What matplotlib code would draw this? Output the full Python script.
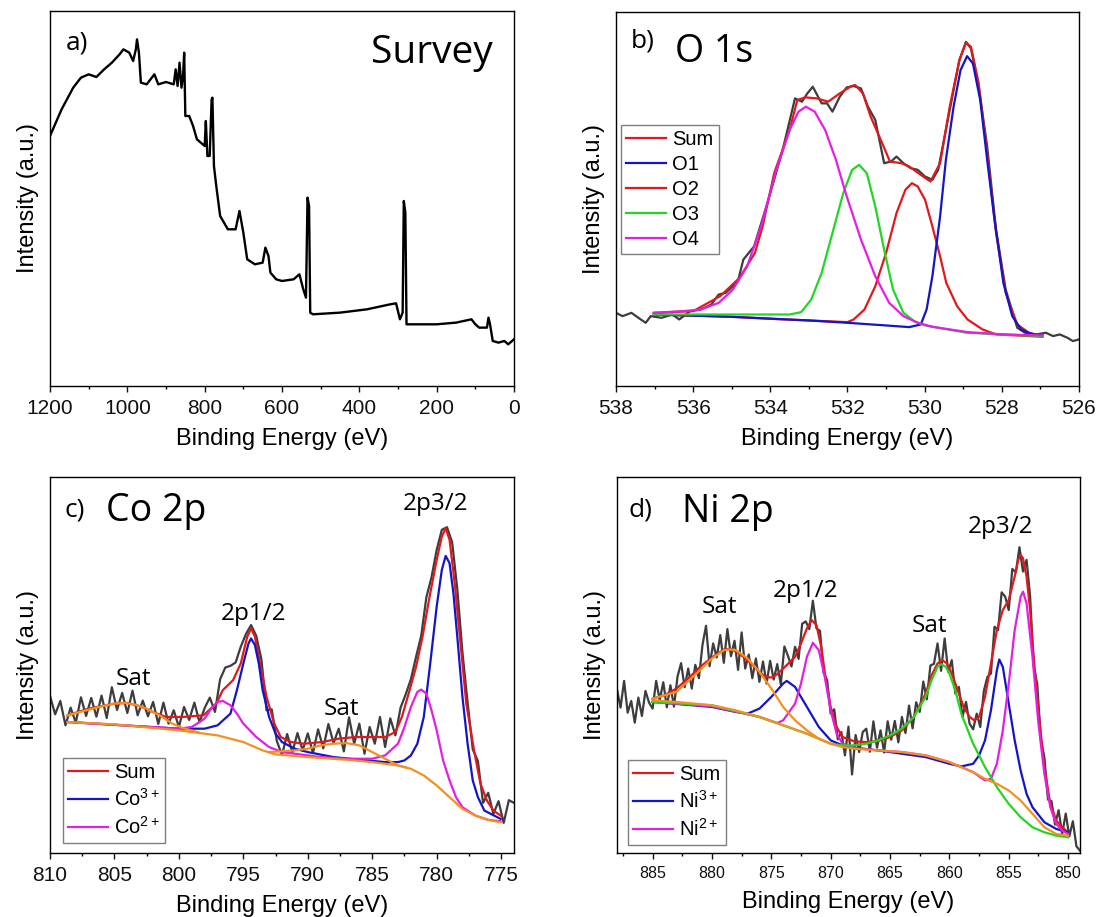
import numpy as np
import matplotlib
matplotlib.use("Agg")
import matplotlib.pyplot as plt
from matplotlib.ticker import MultipleLocator, NullLocator

# ---------------- DATA (intensities in arbitrary units) ----------------
# a) Survey
survey_E = [1200, 1170, 1140, 1120, 1100, 1080, 1060, 1040, 1020, 1010, 995, 985, 978, 975, 970, 965,
            950, 930, 920, 900, 880, 875, 870, 865, 860, 856, 853, 850, 840, 830, 820, 810, 800, 797,
            793, 787, 782, 780, 776, 770, 760, 740, 720, 710, 700, 690, 670, 650, 643, 635, 630, 615,
            600, 570, 555, 545, 538, 534, 530, 527, 520, 450, 380, 320, 305, 295, 288, 285, 281, 278,
            200, 150, 110, 100, 90, 70, 66, 62, 55, 40, 25, 15, 0]
survey_I = [750, 830, 895, 925, 935, 927, 950, 970, 995, 1010, 1000, 975, 1010, 1040, 1000, 910,
            905, 935, 905, 912, 905, 950, 900, 970, 895, 930, 1000, 810, 810, 780, 740, 730, 720, 795,
            690, 690, 860, 865, 660, 600, 510, 470, 470, 525, 460, 380, 365, 370, 415, 390, 340, 320,
            315, 320, 335, 290, 265, 565, 540, 220, 215, 220, 230, 245, 248, 200, 220, 555, 520, 185,
            185, 190, 200, 185, 175, 175, 205, 185, 135, 130, 135, 125, 140]

# b) O 1s
o_raw_E = [538.0, 537.83, 537.6, 537.42, 537.23, 537.1, 536.82, 536.54, 536.36, 536.08, 535.8, 535.53,
           535.34, 535.16, 534.97, 534.84, 534.7, 534.42, 534.05, 533.68, 533.36, 533.18, 533.04, 532.9,
           532.67, 532.53, 532.39, 532.2, 532.02, 531.84, 531.65, 531.47, 531.28, 531.05, 530.87, 530.73,
           530.55, 530.36, 530.18, 529.99, 529.8, 529.65, 529.35, 529.1, 528.93, 528.8, 528.6, 528.38,
           528.15, 527.9, 527.6, 527.4, 527.1, 526.86, 526.67, 526.5, 526.3, 526.16, 526.0]
o_raw_I = [220, 210, 220, 205, 190, 210, 205, 215, 200, 225, 230, 245,
           275, 280, 300, 315, 380, 420, 560, 710, 865, 855, 880, 900,
           850, 850, 825, 870, 898, 902, 895, 840, 800, 670, 675, 690,
           670, 655, 650, 630, 620, 650, 830, 980, 1035, 1015, 900, 720,
           470, 290, 175, 160, 155, 160, 150, 155, 145, 135, 140]
o_sum_E = [537.02, 536.0, 535.3, 534.8, 534.4, 534.2, 533.9, 533.5, 533.3, 533.1, 532.8, 532.5, 532.2,
           531.9, 531.8, 531.6, 531.4, 531.1, 530.9, 530.6, 530.4, 530.1, 529.85, 529.6, 529.35, 529.1,
           528.93, 528.8, 528.6, 528.4, 528.15, 527.9, 527.6, 527.3, 526.95]
o_sum_I = [220, 225, 270, 325, 400, 480, 640, 770, 860, 868, 865, 855, 880,
           902, 905, 880, 810, 730, 675, 670, 660, 635, 615, 670, 840, 980,
           1032, 1020, 910, 720, 460, 280, 185, 160, 150]
o1_E = [537.02, 535.0, 533.0, 532.0, 531.0, 530.4, 530.1, 529.95, 529.8, 529.6, 529.45, 529.25, 529.07,
        528.9, 528.75, 528.56, 528.38, 528.2, 527.96, 527.73, 527.5, 527.2, 526.95]
o1_I = [215, 208, 197, 190, 182, 177, 185, 230, 330, 510, 680, 840, 950,
        992, 970, 860, 680, 510, 310, 210, 170, 155, 152]
o2_E = [537.02, 535.0, 534.0, 533.0, 532.0, 531.84, 531.56, 531.28, 531.0, 530.73, 530.5, 530.33, 530.18,
        529.99, 529.8, 529.6, 529.44, 529.16, 528.89, 528.5, 528.15, 526.95]
o2_I = [215, 208, 202, 197, 192, 200, 230, 300, 400, 520, 590, 610, 600,
        560, 480, 390, 310, 240, 200, 170, 155, 148]
o3_E = [537.02, 533.5, 533.2, 532.94, 532.67, 532.39, 532.11, 531.88, 531.7, 531.5, 531.28, 531.05, 530.82,
        530.55, 530.27, 529.99, 529.5, 528.9, 528.0, 526.95]
o3_I = [215, 215, 222, 260, 340, 460, 580, 650, 665, 640, 540, 410, 290,
        220, 195, 182, 172, 160, 155, 150]
o4_E = [537.02, 536.27, 535.8, 535.34, 534.97, 534.6, 534.24, 533.87, 533.5, 533.27, 533.08, 532.85, 532.58,
        532.3, 532.02, 531.65, 531.28, 530.92, 530.55, 530.18, 529.8, 528.89, 527.96, 526.95]
o4_I = [220, 225, 230, 250, 290, 360, 480, 640, 770, 825, 840, 825, 770,
        680, 570, 440, 330, 250, 210, 190, 178, 162, 155, 152]

# c) Co 2p  (raw data on a 0.4 eV grid starting at 810 eV)
co_raw_start, co_raw_step = 810.0, 0.4
co_raw_I = [470, 415, 455, 382, 435, 390, 466, 410, 464, 408,
            471, 404, 496, 428, 479, 419, 486, 412, 456, 409,
            452, 386, 450, 387, 427, 377, 437, 398, 450, 391,
            434, 465, 422, 520, 555, 560, 570, 617, 655, 682,
            650, 580, 427, 430, 335, 293, 356, 301, 359, 307,
            358, 299, 370, 313, 386, 329, 372, 304, 406, 327,
            387, 297, 377, 327, 407, 317, 403, 352, 435, 475,
            520, 587, 650, 765, 825, 907, 967, 975, 930, 790,
            600, 450, 310, 275, 150, 180, 117, 155, 90, 158,
            150]
co_sum_E = [808.64, 807, 805, 804, 803, 802, 801, 799.7, 798.1, 797.1, 796.6, 795.8, 795.2, 794.7, 794.4,
            794.1, 793.7, 793.2, 792.6, 792.1, 791.3, 790.3, 788.9, 787.6, 786.3, 785.0, 784.0, 783.2,
            782.7, 782.1, 781.6, 781.1, 780.55, 780.0, 779.6, 779.3, 779.0, 778.6, 778.2, 777.7, 777.1,
            776.6, 776.1, 775.6, 775.04]
co_sum_I = [412, 432, 447, 449, 439, 422, 407, 407, 412, 447, 487, 517, 567, 647, 672,
            647, 567, 467, 387, 347, 332, 327, 332, 342, 347, 347, 347, 362,
            407, 487, 557, 647, 767, 877, 947, 972, 937, 807, 647, 447, 307,
            207, 157, 127, 112]
co3_E = [808.64, 800.0, 798.0, 797.0, 796.0, 795.5, 795.0, 794.6, 794.4, 794.1, 793.8, 793.5, 793.0, 792.5,
         792.0, 791.0, 790.0, 788.0, 786.0, 784.0, 783.0, 782.5, 782.0, 781.5, 781.0, 780.5, 780.0, 779.6,
         779.3, 779.0, 778.7, 778.4, 778.0, 777.6, 777.2, 776.8, 776.3, 775.04]
co3_I = [392, 372, 372, 382, 417, 487, 567, 627, 642, 622, 567, 487, 407, 357,
         332, 312, 302, 287, 279, 272, 272, 277, 292, 327, 407, 567, 737, 847,
         889, 867, 777, 647, 467, 327, 217, 167, 127, 102]
co2_E = [808.64, 800.0, 799.0, 798.0, 797.5, 797.0, 796.6, 796.0, 795.5, 795.0, 794.0, 793.0, 792.0, 791.0,
         789.0, 787.0, 785.0, 784.0, 783.0, 782.5, 782.0, 781.5, 781.2, 780.8, 780.4, 780.0, 779.5, 779.0,
         778.5, 778.0, 777.0, 776.0, 775.04]
co2_I = [392, 372, 377, 402, 432, 452, 455, 442, 417, 387, 347, 317, 302, 297,
         287, 282, 282, 292, 327, 377, 437, 482, 489, 477, 427, 367, 277, 217,
         167, 137, 112, 99, 95]
co_bg_E = [808.64, 805.0, 800.0, 797.0, 795.0, 793.5, 792.5, 790.0, 787.0, 785.0, 783.0, 782.0, 781.0,
           780.0, 779.0, 778.0, 777.0, 776.0, 775.04]
co_bg_I = [392, 385, 367, 352, 332, 307, 295, 287, 279, 272, 262, 252, 232,
           202, 167, 132, 112, 99, 92]
co_sat1_E = [808.64, 807.0, 806.0, 805.0, 804.2, 803.5, 802.5, 801.5, 800.5, 799.7, 798.5]
co_sat1_I = [412, 429, 439, 447, 449, 445, 432, 412, 387, 374, 361]
co_sat2_E = [793.0, 791.0, 790.0, 789.0, 788.0, 787.0, 786.0, 785.0, 784.0, 783.0, 782.4]
co_sat2_I = [302, 307, 312, 322, 327, 329, 322, 302, 282, 262, 256]

# d) Ni 2p  (raw data on a 0.3 eV grid starting at 888 eV)
ni_raw_start, ni_raw_step = 888.0, 0.3
ni_raw_I = [490, 435, 515, 420, 455, 390, 465, 410, 485, 450,
            432, 515, 458, 511, 436, 502, 438, 528, 568, 496,
            552, 492, 563, 523, 622, 680, 559, 627, 585, 652,
            569, 670, 589, 635, 548, 660, 552, 594, 523, 582,
            512, 573, 507, 575, 519, 565, 505, 618, 590, 558,
            617, 581, 686, 693, 670, 755, 672, 665, 540, 517,
            417, 430, 340, 362, 292, 378, 235, 353, 302, 362,
            372, 303, 394, 315, 367, 301, 394, 339, 395, 331,
            407, 359, 441, 373, 451, 422, 513, 460, 561, 566,
            627, 545, 642, 542, 577, 477, 497, 407, 452, 387,
            370, 417, 377, 485, 527, 537, 677, 667, 780, 767,
            727, 850, 840, 915, 842, 877, 767, 560, 505, 340,
            287, 160, 155, 85, 128, 57, 118, 50, 95, 20,
            7]
ni_sum_E = [885, 884, 883, 882, 881, 880, 879, 878.5, 878, 877, 876, 875.5, 875, 874.5, 874, 873, 872.5,
            872, 871.6, 871.2, 870.8, 870.4, 870, 869.5, 869, 868, 867, 866, 865, 864, 863, 862, 861.5,
            861, 860.6, 860.2, 859.8, 859.3, 858.8, 858.3, 857.9, 857.5, 857, 856.5, 856, 855.5, 855,
            854.5, 854.2, 854, 853.8, 853.5, 853.2, 853, 852.5, 852, 851.5, 851, 850.5, 850]
ni_sum_I = [462, 472, 492, 522, 557, 585, 609, 610, 604, 577, 542, 527, 525, 535, 552, 587, 627,
            672, 697, 682, 617, 517, 437, 377, 347, 334, 332, 335, 347, 367, 407, 477, 532,
            567, 577, 567, 537, 487, 437, 407, 397, 407, 467, 567, 667, 727, 757,
            827, 877, 892, 882, 827, 727, 627, 427, 257, 147, 97, 77, 62]
ni3_E = [885, 880, 878, 877, 876, 875, 874, 873.7, 873, 872, 871, 870, 869, 868, 866, 864, 862, 860, 859,
         858, 857.5, 857, 856.5, 856, 855.8, 855.5, 855, 854.5, 854, 853.5, 853, 852, 851, 850]
ni3_I = [452, 437, 422, 417, 432, 467, 507, 515, 497, 437, 377, 337, 322, 315, 307, 297, 287, 267, 259,
         267, 292, 337, 427, 547, 579, 557, 447, 337, 247, 177, 137, 92, 72, 62]
ni2_E = [885, 880, 876, 874.5, 874, 873, 872.5, 872, 871.5, 871, 870.5, 870, 869.5, 869, 868, 866, 864, 862,
         860, 858, 857, 856.5, 856, 855.5, 855, 854.5, 854, 853.8, 853.5, 853, 852.5, 852, 851.5, 851,
         850.5, 850]
ni2_I = [452, 439, 407, 389, 397, 447, 507, 587, 629, 607, 527, 427, 357, 327, 314, 307, 302, 292,
         272, 242, 217, 222, 267, 367, 507, 667, 767, 782, 747, 587, 387, 237, 137, 87,
         67, 57]
ni_bg_E = [885, 883, 880, 878, 876, 874, 872, 870, 869, 868, 866, 864, 862, 860, 858, 857, 856, 855, 854,
           853, 852, 851, 850]
ni_bg_I = [457, 452, 442, 427, 407, 382, 357, 327, 317, 312, 307, 302, 292, 272, 242, 222, 207, 187, 157,
           117, 77, 57, 52]
ni_satA_E = [885, 883, 881, 880, 879, 878.5, 878, 877, 876, 875, 874, 873, 872, 871, 870]
ni_satA_I = [462, 482, 547, 582, 607, 609, 607, 582, 542, 492, 437, 397, 367, 342, 327]
ni_satB_E = [885, 880, 876, 872, 870, 869, 868, 867, 866, 865, 864, 863, 862, 861.5, 861, 860.7, 860.3,
             860, 859.5, 859, 858, 857, 856, 855, 854, 853, 852, 851, 850]
ni_satB_I = [452, 442, 407, 357, 327, 322, 322, 327, 337, 352, 372, 407, 467, 517, 557, 565, 557,
             537, 487, 417, 327, 257, 197, 147, 107, 77, 62, 52, 47]

# ---------------- STYLE ----------------
RED = '#e2181c'
BLUE = '#1414c8'
GREEN = '#22d622'
MAGENTA = '#e41ee4'
ORANGE = '#f39021'
GRAY = '#3d3d3d'

plt.rcParams['font.family'] = ['Liberation Sans', 'DejaVu Sans']
plt.rcParams['mathtext.fontset'] = 'custom'
plt.rcParams['mathtext.rm'] = 'Liberation Sans'
plt.rcParams['mathtext.it'] = 'Liberation Sans'
ANN = ['Open Sans', 'DejaVu Sans']

fig = plt.figure(figsize=(10.99, 9.17), dpi=100)
ax_a = fig.add_axes([0.0455, 0.5791, 0.4222, 0.4089])
ax_b = fig.add_axes([0.5605, 0.5791, 0.4213, 0.4079])
ax_c = fig.add_axes([0.0455, 0.0698, 0.4222, 0.4100])
ax_d = fig.add_axes([0.5614, 0.0698, 0.4213, 0.4100])


def style(ax, xlim, major, minor, tick_fs):
    ax.set_xlim(*xlim)
    ax.set_ylim(0, 1125)
    ax.xaxis.set_major_locator(MultipleLocator(major))
    ax.xaxis.set_minor_locator(MultipleLocator(minor))
    ax.yaxis.set_major_locator(NullLocator())
    ax.yaxis.set_minor_locator(NullLocator())
    ax.tick_params(axis='x', which='major', direction='out', length=4.5, width=1.0,
                   labelsize=tick_fs, pad=5, colors='#111111')
    ax.tick_params(axis='x', which='minor', direction='out', length=2.5, width=1.0)
    for s in ax.spines.values():
        s.set_linewidth(1.0)
    ax.set_xlabel('Binding Energy (eV)', fontsize=17, labelpad=7)
    ax.set_ylabel('Intensity (a.u.)', fontsize=17, labelpad=8)


def leg(ax, handles, labels, anchor, loc):
    lg = ax.legend(handles, labels, loc=loc, bbox_to_anchor=anchor, fontsize=14.5,
                   frameon=True, fancybox=False, edgecolor='#7f7f7f', framealpha=1,
                   borderpad=0.25, handlelength=2.0, handletextpad=0.3,
                   labelspacing=0.3, borderaxespad=0)
    lg.get_frame().set_linewidth(1.0)


LW = 1.6

# a) survey
style(ax_a, (1200, 0), 200, 100, 15)
ax_a.plot(survey_E, survey_I, color='black', lw=1.7)
ax_a.text(0.034, 0.896, 'a)', transform=ax_a.transAxes, fontsize=19, family=ANN)
ax_a.text(0.955, 0.861, 'Survey', transform=ax_a.transAxes, fontsize=28, family=ANN, ha='right')

# b) O 1s
style(ax_b, (538, 526), 2, 1, 15)
ax_b.plot(o_raw_E, o_raw_I, color=GRAY, lw=LW)
hs, = ax_b.plot(o_sum_E, o_sum_I, color=RED, lw=LW)
h2, = ax_b.plot(o2_E, o2_I, color=RED, lw=LW)
h1, = ax_b.plot(o1_E, o1_I, color=BLUE, lw=LW)
h3, = ax_b.plot(o3_E, o3_I, color=GREEN, lw=LW)
h4, = ax_b.plot(o4_E, o4_I, color=MAGENTA, lw=LW)
leg(ax_b, [hs, h1, h2, h3, h4], ['Sum', 'O1', 'O2', 'O3', 'O4'], (0.011, 0.698), 'upper left')
ax_b.text(0.032, 0.906, 'b)', transform=ax_b.transAxes, fontsize=19, family=ANN)
ax_b.text(0.127, 0.866, 'O 1s', transform=ax_b.transAxes, fontsize=27, family=ANN)

# c) Co 2p
style(ax_c, (810, 774), 5, 2.5, 15)
co_raw_E = [co_raw_start - co_raw_step * i for i in range(len(co_raw_I))]
ax_c.plot(co_raw_E, co_raw_I, color=GRAY, lw=LW)
hs, = ax_c.plot(co_sum_E, co_sum_I, color=RED, lw=LW)
h3, = ax_c.plot(co3_E, co3_I, color=BLUE, lw=LW)
h2, = ax_c.plot(co2_E, co2_I, color=MAGENTA, lw=LW)
ax_c.plot(co_bg_E, co_bg_I, color=ORANGE, lw=LW)
ax_c.plot(co_sat1_E, co_sat1_I, color=ORANGE, lw=LW)
ax_c.plot(co_sat2_E, co_sat2_I, color=ORANGE, lw=LW)
leg(ax_c, [hs, h3, h2], ['Sum', 'Co$^{3+}$', 'Co$^{2+}$'], (0.028, 0.027), 'lower left')
ax_c.text(0.032, 0.894, 'c)', transform=ax_c.transAxes, fontsize=19, family=ANN)
ax_c.text(0.121, 0.883, 'Co 2p', transform=ax_c.transAxes, fontsize=27, family=ANN)
ax_c.text(0.830, 0.912, '2p3/2', transform=ax_c.transAxes, fontsize=17.5, family=ANN, ha='center')
ax_c.text(0.438, 0.620, '2p1/2', transform=ax_c.transAxes, fontsize=17.5, family=ANN, ha='center')
ax_c.text(0.181, 0.447, 'Sat', transform=ax_c.transAxes, fontsize=17.5, family=ANN, ha='center')
ax_c.text(0.629, 0.367, 'Sat', transform=ax_c.transAxes, fontsize=17.5, family=ANN, ha='center')

# d) Ni 2p
style(ax_d, (888, 849), 5, 2.5, 11.5)
ni_raw_E = [ni_raw_start - ni_raw_step * i for i in range(len(ni_raw_I))]
ax_d.plot(ni_raw_E, ni_raw_I, color=GRAY, lw=LW)
hs, = ax_d.plot(ni_sum_E, ni_sum_I, color=RED, lw=LW)
h3, = ax_d.plot(ni3_E, ni3_I, color=BLUE, lw=LW)
h2, = ax_d.plot(ni2_E, ni2_I, color=MAGENTA, lw=LW)
ax_d.plot(ni_satB_E, ni_satB_I, color=GREEN, lw=LW)
ax_d.plot(ni_bg_E, ni_bg_I, color=ORANGE, lw=LW)
ax_d.plot(ni_satA_E, ni_satA_I, color=ORANGE, lw=LW)
leg(ax_d, [hs, h3, h2], ['Sum', 'Ni$^{3+}$', 'Ni$^{2+}$'], (0.024, 0.021), 'lower left')
ax_d.text(0.024, 0.894, 'd)', transform=ax_d.transAxes, fontsize=19, family=ANN)
ax_d.text(0.140, 0.880, 'Ni 2p', transform=ax_d.transAxes, fontsize=27, family=ANN)
ax_d.text(0.222, 0.638, 'Sat', transform=ax_d.transAxes, fontsize=17.5, family=ANN, ha='center')
ax_d.text(0.408, 0.681, '2p1/2', transform=ax_d.transAxes, fontsize=17.5, family=ANN, ha='center')
ax_d.text(0.674, 0.588, 'Sat', transform=ax_d.transAxes, fontsize=17.5, family=ANN, ha='center')
ax_d.text(0.829, 0.851, '2p3/2', transform=ax_d.transAxes, fontsize=17.5, family=ANN, ha='center')

fig.savefig('out.png', dpi=100)
